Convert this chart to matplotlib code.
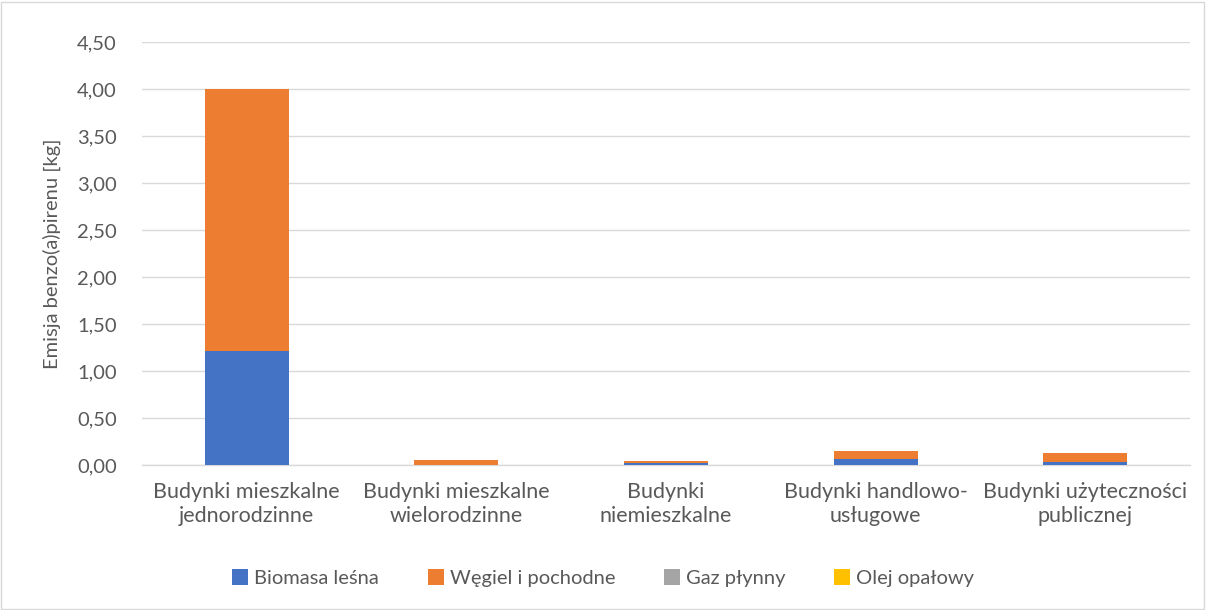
import matplotlib
matplotlib.use('Agg')
import matplotlib.pyplot as plt
import numpy as np

categories = ['Budynki mieszkalne\njednorodzinne', 'Budynki mieszkalne\nwielorodzinne',
              'Budynki\nniemieszkalne', 'Budynki handlowo-\nusługowe',
              'Budynki użyteczności\npublicznej']
biomasa = [1.21, 0.003, 0.020, 0.067, 0.032]
wegiel = [2.79, 0.053, 0.025, 0.082, 0.092]
gaz = [0.0, 0.0, 0.0, 0.0, 0.0]
olej = [0.0, 0.0, 0.0, 0.0, 0.0]
series_names = ['Biomasa leśna', 'Węgiel i pochodne', 'Gaz płynny', 'Olej opałowy']
colors = ['#4472C4', '#ED7D31', '#A5A5A5', '#FFC000']
yticks = np.arange(0, 4.51, 0.5)

plt.rcParams['font.family'] = ['Lato', 'DejaVu Sans']
text_color = '#595959'
fs = 14.5

fig = plt.figure(figsize=(12.06, 6.10), dpi=100)
ax = fig.add_axes([142 / 1206, 1 - 465 / 610, (1190 - 142) / 1206, (465 - 42) / 610])

x = np.arange(len(categories))
bottom = np.zeros(len(categories))
for vals, name, c in zip([biomasa, wegiel, gaz, olej], series_names, colors):
    ax.bar(x, vals, width=0.4, bottom=bottom, color=c, label=name, zorder=3)
    bottom += np.array(vals)

ax.set_xlim(-0.5, len(categories) - 0.5)
ax.set_ylim(0, 4.5)
ax.set_yticks(yticks)
ax.set_yticklabels(['{:.2f}'.format(v).replace('.', ',') for v in yticks])
ax.set_xticks(x)
ax.set_xticklabels(categories, fontsize=15.5, color=text_color, linespacing=1.25)
ax.tick_params(axis='y', labelsize=fs, labelcolor=text_color, length=0, pad=18)
ax.tick_params(axis='x', length=0, pad=12)
ax.grid(axis='y', color='#D9D9D9', linewidth=1, zorder=0)
for s in ['top', 'right', 'left']:
    ax.spines[s].set_visible(False)
ax.spines['bottom'].set_color('#D9D9D9')
ax.spines['bottom'].set_linewidth(1)
ax.set_ylabel('Emisja benzo(a)pirenu [kg]', fontsize=fs, color=text_color, labelpad=12)

leg = fig.legend(loc='center', bbox_to_anchor=(0.5, 1 - 578 / 610), ncol=4, frameon=False,
                 fontsize=fs, handlelength=0.8, handleheight=0.8, columnspacing=2.4,
                 handletextpad=0.3)
for t in leg.get_texts():
    t.set_color(text_color)

border = plt.Rectangle((0.001, 0.002), 0.997, 0.995, transform=fig.transFigure,
                       fill=False, edgecolor='#D9D9D9', linewidth=1)
fig.patches.append(border)

fig.savefig('out.png', dpi=100)
